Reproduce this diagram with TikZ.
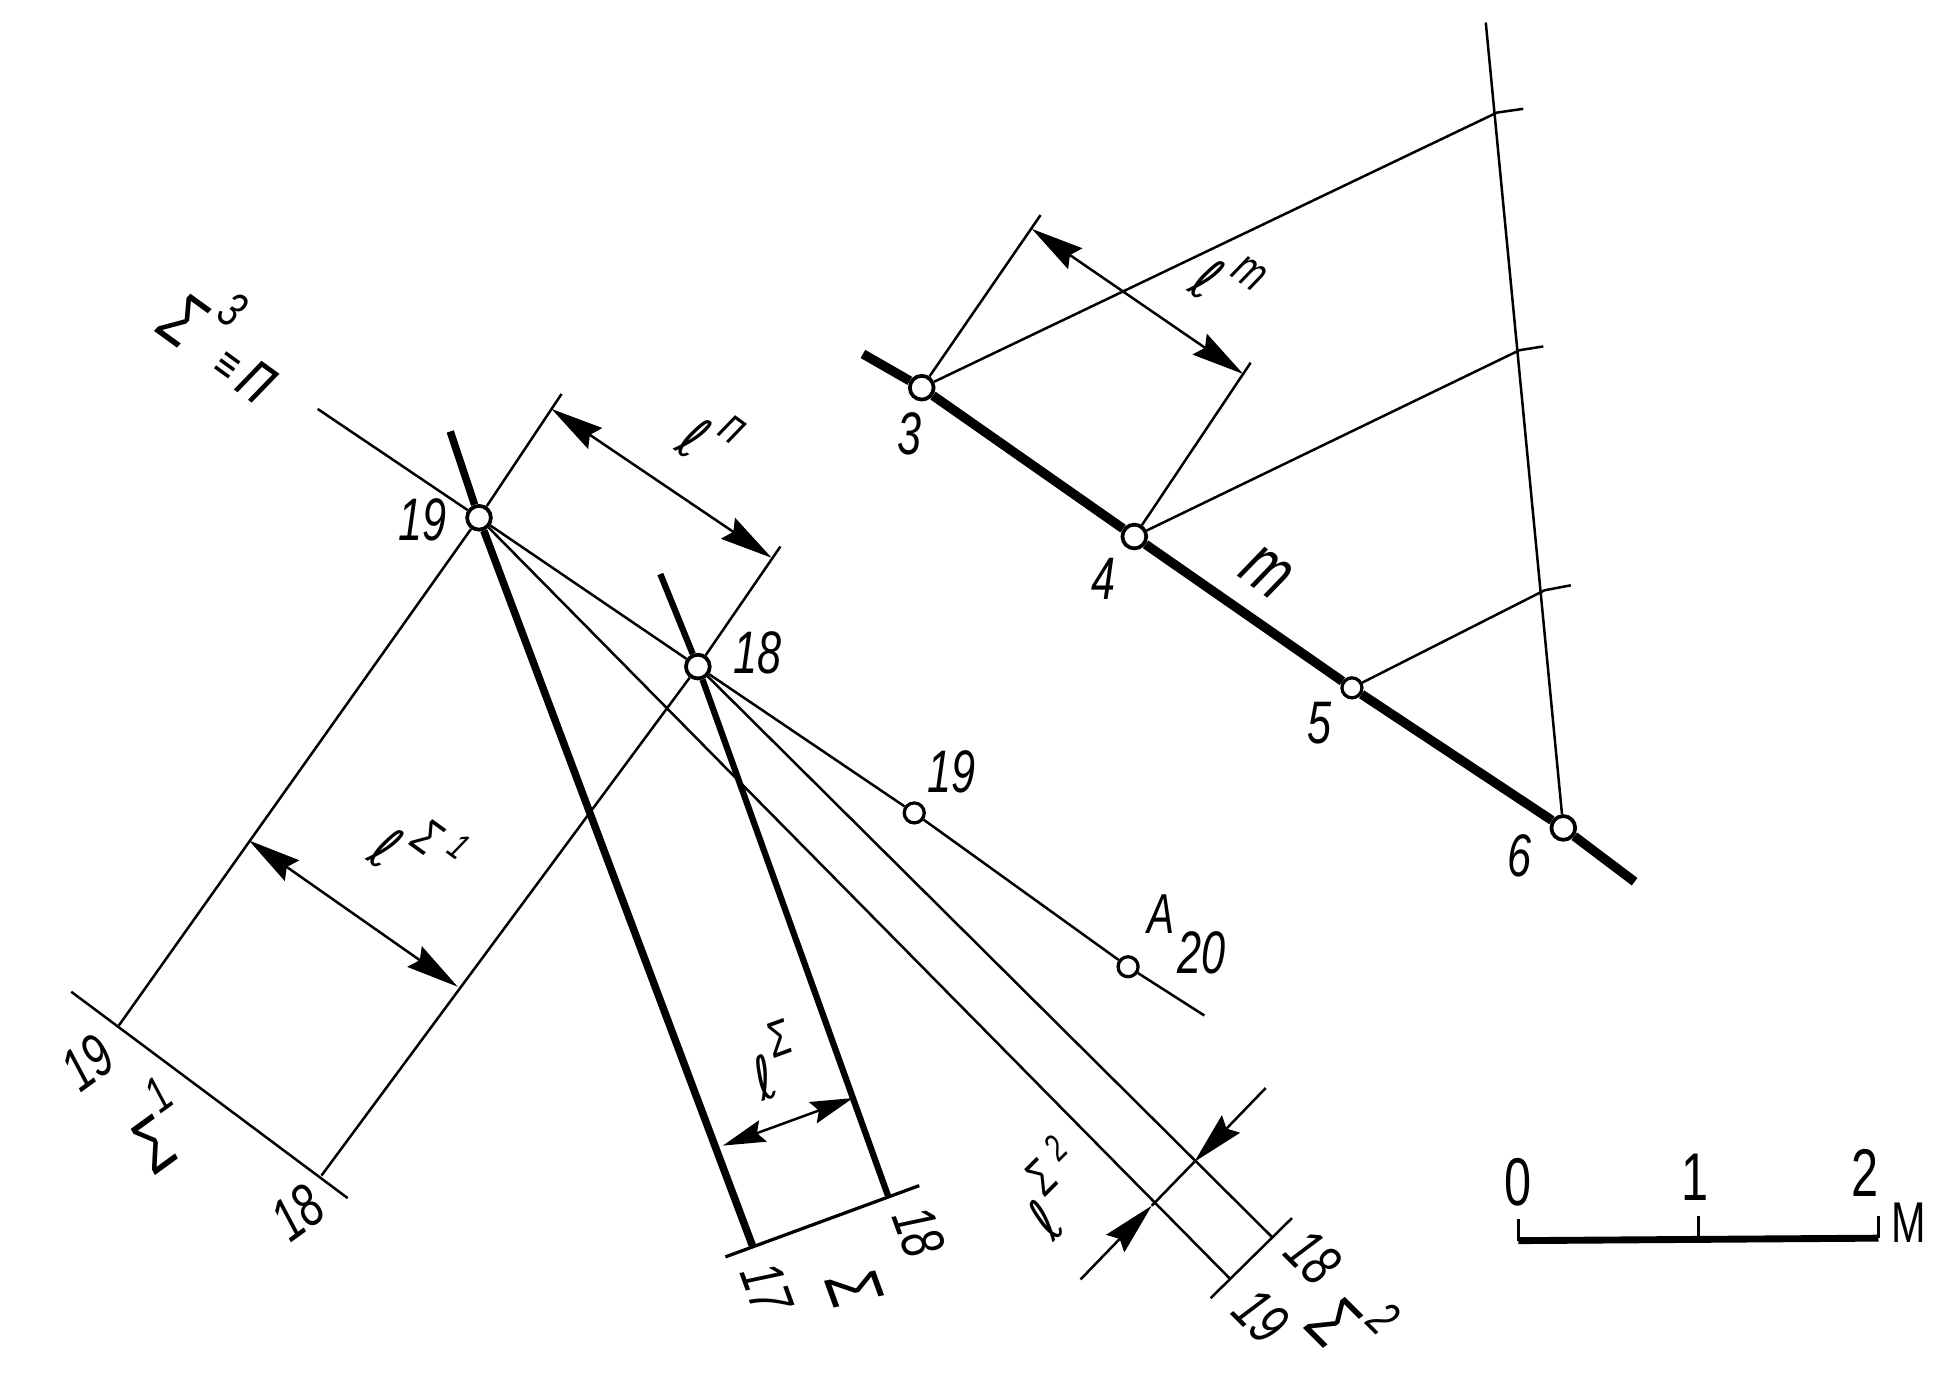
\documentclass[tikz,border=0pt]{standalone}
\usepackage{fontspec}
\setmainfont[FakeStretch=0.72]{Liberation Sans}
\newfontfamily\ellfont[FakeStretch=0.8]{DejaVu Sans}
\usetikzlibrary{arrows.meta}
\newcommand{\hisup}[2][0.62em]{\kern0.1em\raisebox{#1}{\fontsize{40}{40}\selectfont #2}}
\newcommand{\lowsup}[1]{\kern0.25em\raisebox{0.3em}{\fontsize{30}{30}\selectfont #1}}
\newcommand{\lscr}{{\ellfont ℓ}}
\tikzset{
  pt/.style={circle,draw,fill=white,line width=3pt,minimum size=19pt,inner sep=0},
  ptsm/.style={pt,line width=2.6pt,minimum size=16pt},
  lab/.style={inner sep=0,font=\fontsize{48}{48}\selectfont\itshape},
  labbig/.style={inner sep=0,font=\fontsize{60}{60}\selectfont\itshape},
  thinln/.style={line width=2pt},
  thickln/.style={line width=7.5pt},
  heavyln/.style={line width=6pt},
  midln/.style={line width=5pt},
  dim/.style={thinln,<->},
  dimin/.style={thinln,->},
}
\begin{document}
\begin{tikzpicture}[x=1pt,y=-1pt,>={Stealth[length=42pt,width=20pt,inset=5pt]}]
  \useasboundingbox (0,0) rectangle (1560,1107.4);
  % line m and its division
  \node[pt] (p3) at (737,310) {};
  \node[pt] (p4) at (907,429) {};
  \node[ptsm] (p5) at (1081,550) {};
  \node[pt] (p6) at (1250,662) {};
  \coordinate (mA) at (690,283);
  \coordinate (mB) at (1307,705);
  \draw[thickln] (mA) -- (p3) -- (p4) -- (p5) -- (p6) -- (mB);
  \coordinate (vTop) at (1188,18);
  \draw[thinln] (vTop) -- (p6);
  \coordinate (t3) at (1197,90);
  \coordinate (t4) at (1215,280);
  \coordinate (t5) at (1235,472);
  \draw[thinln] (p3) -- (t3) -- ++(21,-3);
  \draw[thinln] (p4) -- (t4) -- ++(19,-3);
  \draw[thinln] (p5) -- (t5) -- ++(21,-4);
  \coordinate (e3) at (832,172);
  \coordinate (e4) at (1000,290);
  \coordinate (a3) at (825,183);
  \coordinate (a4) at (994,299);
  \draw[thinln] (p3) -- (e3);
  \draw[thinln] (p4) -- (e4);
  \draw[dim] (a3) -- (a4);
  % trace line
  \node[pt] (q19) at (383,414) {};
  \node[pt] (q18) at (558,533) {};
  \node[ptsm] (r19) at (731,650) {};
  \node[ptsm] (pA) at (902,773) {};
  \coordinate (nA) at (254,327);
  \coordinate (nB) at (963,812);
  \draw[thinln] (nA) -- (q19) -- (q18) -- (r19) -- (pA) -- (nB);
  % true view
  \coordinate (s19) at (360,345);
  \coordinate (b17) at (602,997);
  \coordinate (s18) at (528,459);
  \coordinate (b18) at (710,956);
  \draw[heavyln] (s19) -- (q19) -- (b17);
  \draw[midln] (s18) -- (q18) -- (b18);
  \coordinate (bA) at (580,1005);
  \coordinate (bB) at (735,948);
  \draw[line width=2.6pt] (bA) -- (bB);
  \coordinate (c19) at (578,916);
  \coordinate (c18) at (682,878);
  \draw[thinln,{Stealth[length=34pt,width=18pt,inset=5pt]}-{Stealth[length=34pt,width=18pt,inset=5pt]}] (c19) -- (c18);
  % first view
  \coordinate (u19) at (449,315);
  \coordinate (u18) at (624,437);
  \coordinate (d19) at (95,820);
  \coordinate (d18) at (257,940);
  \draw[thinln] (u19) -- (q19) -- (d19);
  \draw[thinln] (u18) -- (q18) -- (d18);
  \coordinate (eA) at (57,793);
  \coordinate (eB) at (278,958);
  \draw[thinln] (eA) -- (eB);
  \coordinate (f19) at (441,327);
  \coordinate (f18) at (617,446);
  \draw[dim] (f19) -- (f18);
  \coordinate (g19) at (199,672);
  \coordinate (g18) at (366,789);
  \draw[dim] (g19) -- (g18);
  % second view
  \coordinate (h19) at (983,1022);
  \coordinate (h18) at (1017,989);
  \draw[thinln] (q19) -- (h19);
  \draw[thinln] (q18) -- (h18);
  \coordinate (iA) at (968,1038);
  \coordinate (iB) at (1033,974);
  \draw[thinln] (iA) -- (iB);
  \coordinate (j19) at (921,964);
  \coordinate (j18) at (955,929);
  \coordinate (k19) at (864,1023);
  \coordinate (k18) at (1012,870);
  \draw[dimin] (k19) -- (j19);
  \draw[dimin] (k18) -- (j18);
  \draw[thinln] (j19) -- (j18);
  % scale
  \coordinate (z0) at (1214,975);
  \coordinate (z1) at (1214,992);
  \coordinate (z2) at (1502,990);
  \coordinate (z3) at (1502,972);
  \coordinate (z4) at (1358,972);
  \coordinate (z5) at (1358,990);
  \draw[line width=2.6pt] (z0) -- (z1);
  \draw[line width=5.5pt] (z1) -- (z2);
  \draw[line width=2.6pt] (z2) -- (z3);
  \draw[line width=2.6pt] (z4) -- (z5);
  \node[lab,font=\fontsize{54}{54}\selectfont] (l0) at (1214,945) {0};
  \node[lab,font=\fontsize{54}{54}\selectfont] (l1) at (1355,941) {1};
  \node[lab,font=\fontsize{54}{54}\selectfont] (l2) at (1491,938) {2};
  \node[lab,font=\fontsize{46}{46}\selectfont] (lM) at (1526,978) {М};
  % labels
  \node[lab] (n3) at (727,347) {3};
  \node[lab] (n4) at (882,463) {4};
  \node[lab] (n5) at (1055,578) {5};
  \node[lab] (n6) at (1215,684) {6};
  \node[labbig,rotate=-36] (nm) at (1013,458) {m};
  \node[lab,rotate=-36] (nlm) at (982,225) {\lscr\hisup{m}};
  \node[labbig,rotate=-36] (nP) at (184,269) {Σ\hisup{3}{\fontsize{40}{40}\selectfont\,≡\,}п};
  \node[lab,rotate=-36] (nlP) at (568,350) {\lscr\hisup{п}};
  \node[lab] (nq19) at (338,416) {19};
  \node[lab] (nq18) at (606,522) {18};
  \node[lab] (nr19) at (761,617) {19};
  \node[lab,font=\fontsize{45}{45}\selectfont\itshape] (nA1) at (928,731) {A};
  \node[lab] (nA2) at (961,762) {20};
  \node[lab,rotate=36] (nd19) at (70,850) {19};
  \node[lab,rotate=36] (nd18) at (238,970) {18};
  \node[labbig,rotate=36] (nS1) at (125,900) {Σ\hisup{1}};
  \node[lab,rotate=-36] (nlS1) at (335,680) {\lscr\hisup{Σ\lowsup{1}}};
  \node[lab,rotate=-70] (nb17) at (613,1030) {17};
  \node[lab,rotate=-70] (nb18) at (735,985) {18};
  \node[labbig,rotate=-70] (nS) at (683,1030) {Σ};
  \node[lab,rotate=20] (nlS) at (618,848) {\lscr\hisup{Σ}};
  \node[lab,rotate=-45] (nh18) at (1050,1005) {18};
  \node[lab,rotate=-45] (nh19) at (1008,1052) {19};
  \node[labbig,rotate=-45] (nS2) at (1082,1056) {Σ\hisup{2}};
  \node[lab,rotate=45] (nlS2) at (842,950) {\lscr\hisup{Σ\lowsup{2}}};
\end{tikzpicture}
\end{document}
